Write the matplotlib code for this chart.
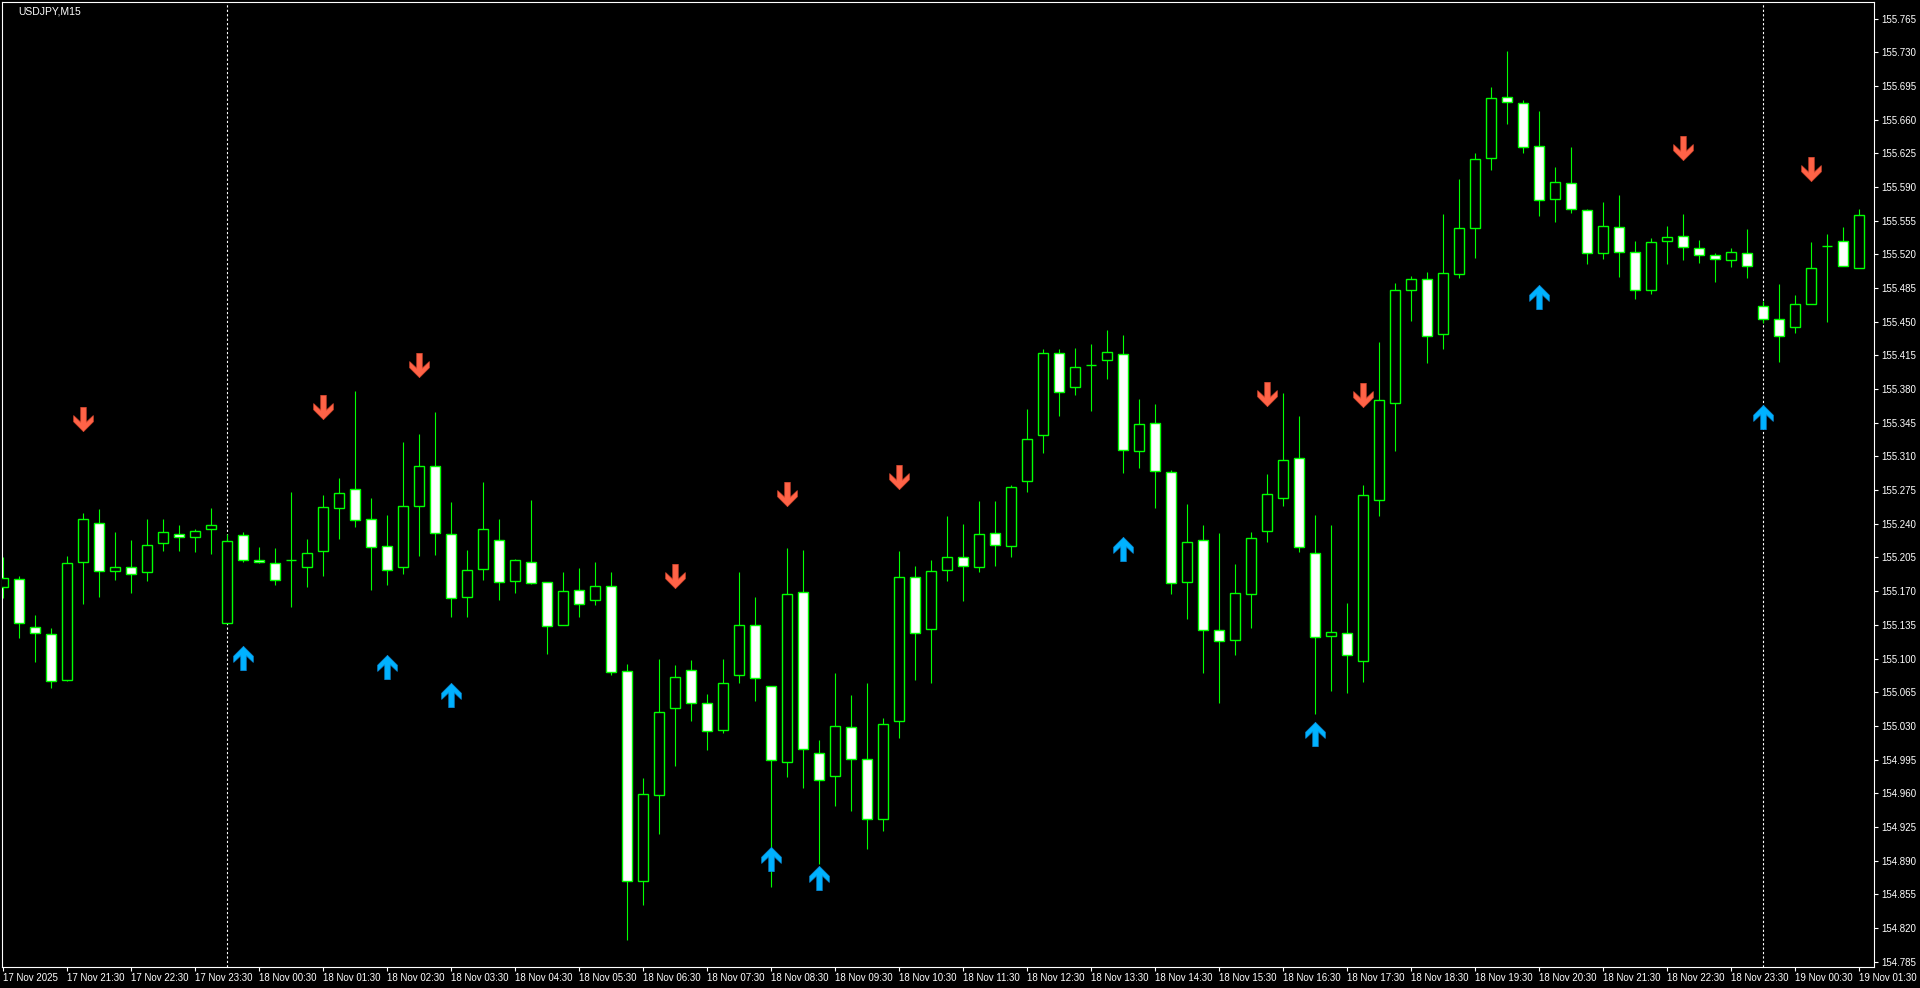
"""USDJPY M15 candles with signal arrows, MT4 look."""

import numpy as np
import matplotlib
matplotlib.use('Agg')
import matplotlib.pyplot as plt
from matplotlib.path import Path

plt.rcParams['font.family'] = ['Liberation Sans', 'DejaVu Sans']

# OHLC of each 15 minute bar, first bar 17 Nov 2025 20:30
opens = [155.174, 155.183, 155.133, 155.125, 155.078, 155.200, 155.241, 155.191, 155.195, 155.190,
         155.220, 155.229, 155.226, 155.235, 155.137, 155.228, 155.202, 155.199, 155.202, 155.195,
         155.212, 155.256, 155.276, 155.245, 155.217, 155.195, 155.259, 155.300, 155.229, 155.164,
         155.193, 155.223, 155.181, 155.200, 155.180, 155.135, 155.171, 155.161, 155.175, 155.087,
         154.869, 154.958, 155.049, 155.088, 155.054, 155.026, 155.083, 155.135, 155.071, 154.992,
         155.169, 155.002, 154.978, 155.029, 154.996, 154.933, 155.035, 155.185, 155.131, 155.192,
         155.206, 155.195, 155.230, 155.217, 155.284, 155.332, 155.417, 155.382, 155.405, 155.410,
         155.416, 155.316, 155.345, 155.294, 155.180, 155.223, 155.130, 155.119, 155.167, 155.233,
         155.267, 155.308, 155.210, 155.123, 155.127, 155.097, 155.265, 155.366, 155.483, 155.494,
         155.437, 155.500, 155.547, 155.620, 155.684, 155.677, 155.633, 155.578, 155.594, 155.566,
         155.521, 155.548, 155.523, 155.483, 155.534, 155.539, 155.527, 155.519, 155.514, 155.521,
         155.466, 155.453, 155.445, 155.468, 155.529, 155.534, 155.506]
highs = [155.206, 155.186, 155.145, 155.132, 155.207, 155.251, 155.255, 155.231, 155.223, 155.245,
         155.245, 155.239, 155.235, 155.256, 155.229, 155.232, 155.216, 155.215, 155.273, 155.224,
         155.270, 155.288, 155.378, 155.267, 155.249, 155.325, 155.333, 155.356, 155.263, 155.213,
         155.283, 155.245, 155.203, 155.265, 155.180, 155.190, 155.194, 155.200, 155.190, 155.094,
         154.976, 155.100, 155.093, 155.098, 155.063, 155.100, 155.190, 155.164, 155.071, 155.215,
         155.213, 155.015, 155.085, 155.062, 155.075, 155.038, 155.212, 155.196, 155.202, 155.248,
         155.240, 155.264, 155.264, 155.280, 155.359, 155.422, 155.422, 155.423, 155.427, 155.441,
         155.436, 155.370, 155.365, 155.296, 155.261, 155.239, 155.230, 155.198, 155.231, 155.292,
         155.376, 155.352, 155.249, 155.239, 155.158, 155.280, 155.429, 155.490, 155.498, 155.502,
         155.562, 155.598, 155.625, 155.694, 155.731, 155.680, 155.669, 155.611, 155.632, 155.567,
         155.574, 155.582, 155.534, 155.537, 155.550, 155.562, 155.535, 155.521, 155.527, 155.546,
         155.472, 155.489, 155.478, 155.533, 155.541, 155.548, 155.567]
lows = [155.163, 155.121, 155.096, 155.069, 155.077, 155.157, 155.164, 155.182, 155.168, 155.181,
        155.212, 155.212, 155.211, 155.209, 155.137, 155.200, 155.199, 155.176, 155.154, 155.174,
        155.186, 155.224, 155.237, 155.171, 155.176, 155.188, 155.207, 155.208, 155.143, 155.143,
        155.182, 155.161, 155.168, 155.177, 155.105, 155.135, 155.143, 155.156, 155.083, 154.807,
        154.844, 154.918, 154.988, 155.035, 155.005, 155.023, 155.075, 155.056, 154.863, 154.977,
        154.965, 154.886, 154.947, 154.942, 154.902, 154.921, 155.017, 155.078, 155.075, 155.181,
        155.160, 155.190, 155.196, 155.205, 155.273, 155.314, 155.352, 155.374, 155.357, 155.391,
        155.293, 155.298, 155.256, 155.167, 155.141, 155.085, 155.054, 155.104, 155.132, 155.221,
        155.258, 155.211, 155.042, 155.066, 155.064, 155.076, 155.248, 155.316, 155.451, 155.407,
        155.422, 155.495, 155.516, 155.608, 155.656, 155.625, 155.560, 155.554, 155.563, 155.510,
        155.515, 155.497, 155.474, 155.479, 155.510, 155.514, 155.511, 155.491, 155.507, 155.495,
        155.449, 155.408, 155.438, 155.468, 155.450, 155.508, 155.506]
closes = [155.184, 155.137, 155.126, 155.077, 155.199, 155.245, 155.191, 155.195, 155.188, 155.218,
          155.232, 155.226, 155.233, 155.239, 155.222, 155.202, 155.200, 155.182, 155.202, 155.210,
          155.257, 155.272, 155.244, 155.216, 155.192, 155.259, 155.300, 155.230, 155.163, 155.192,
          155.235, 155.180, 155.202, 155.179, 155.134, 155.170, 155.157, 155.175, 155.086, 154.869,
          154.959, 155.044, 155.081, 155.054, 155.025, 155.075, 155.135, 155.080, 154.995, 155.167,
          155.006, 154.974, 155.030, 154.996, 154.933, 155.032, 155.185, 155.126, 155.191, 155.205,
          155.196, 155.229, 155.218, 155.278, 155.328, 155.418, 155.377, 155.403, 155.405, 155.419,
          155.317, 155.344, 155.295, 155.179, 155.221, 155.130, 155.118, 155.168, 155.225, 155.271,
          155.306, 155.216, 155.122, 155.128, 155.104, 155.270, 155.369, 155.483, 155.494, 155.435,
          155.501, 155.547, 155.619, 155.683, 155.678, 155.632, 155.577, 155.595, 155.567, 155.521,
          155.549, 155.522, 155.483, 155.533, 155.538, 155.528, 155.519, 155.515, 155.522, 155.508,
          155.453, 155.435, 155.468, 155.506, 155.529, 155.508, 155.561]

# indicator arrows: bar index and price
sell_bars = [5, 20, 26, 42, 49, 56, 79, 85, 105, 113]
sell_prices = [155.349, 155.361, 155.405, 155.186, 155.271, 155.289, 155.375, 155.374, 155.631, 155.609]
buy_bars = [15, 24, 28, 48, 51, 70, 82, 96, 110]
buy_prices = [155.101, 155.091, 155.062, 154.892, 154.872, 155.214, 155.022, 155.476, 155.351]

# day separators (bar index of 00:00)
day_breaks = [14, 110]

time_tick_bars = list(range(0, 117, 4))
time_tick_labels = ['17 Nov 2025', '17 Nov 21:30', '17 Nov 22:30', '17 Nov 23:30',
                    '18 Nov 00:30', '18 Nov 01:30', '18 Nov 02:30', '18 Nov 03:30',
                    '18 Nov 04:30', '18 Nov 05:30', '18 Nov 06:30', '18 Nov 07:30',
                    '18 Nov 08:30', '18 Nov 09:30', '18 Nov 10:30', '18 Nov 11:30',
                    '18 Nov 12:30', '18 Nov 13:30', '18 Nov 14:30', '18 Nov 15:30',
                    '18 Nov 16:30', '18 Nov 17:30', '18 Nov 18:30', '18 Nov 19:30',
                    '18 Nov 20:30', '18 Nov 21:30', '18 Nov 22:30', '18 Nov 23:30',
                    '19 Nov 00:30', '19 Nov 01:30']
price_ticks = np.round(155.765 - 0.035 * np.arange(29), 3)

if __name__ == '__main__':
    o = np.array(opens)
    c = np.array(closes)
    x = np.arange(len(o))
    bull = c >= o
    fills = np.where(bull, 'black', 'white')

    fig = plt.figure(figsize=(19.2, 9.88), dpi=100, facecolor='black')
    ax = fig.add_axes([2 / 1920, 21 / 988, 1872 / 1920, 965 / 988], facecolor='black')

    # wicks then bodies
    ax.vlines(x, lows, highs, color='#00FF00', lw=0.8, zorder=2)
    ax.bar(x, c - o, bottom=o, width=0.6, color=fills, edgecolor='#00FF00',
           linewidth=1.0, zorder=3)

    for b in day_breaks:
        ax.axvline(b, color='white', lw=0.8, ls=(0, (2, 2)), zorder=1)

    # wingdings-like arrows
    up = [(0, 0.62), (0.5, 0.12), (0.5, -0.2), (0.14, 0.14), (0.14, -0.62),
          (-0.14, -0.62), (-0.14, 0.14), (-0.5, -0.2), (-0.5, 0.12), (0, 0.62)]
    down = [(px, -py) for px, py in up]
    ax.plot(buy_bars, buy_prices, ls='none', marker=Path(up, closed=True), ms=17.5,
            color='#00B2FF', mec='#0A8AD8', mew=0.5, zorder=4)
    ax.plot(sell_bars, sell_prices, ls='none', marker=Path(down, closed=True), ms=17.5,
            color='#FF6347', mec='#D9472E', mew=0.5, zorder=4)

    ax.set_xlim(-0.0625, 116.94)
    ax.set_ylim(154.7794, 155.7823)

    ax.yaxis.tick_right()
    ax.set_yticks(price_ticks)
    ax.set_yticklabels([f'{p:.3f}' for p in price_ticks])
    ax.set_xticks(time_tick_bars)
    ax.set_xticklabels(time_tick_labels)
    for lbl in ax.get_xticklabels():
        lbl.set_horizontalalignment('left')
    ax.tick_params(axis='y', color='white', labelcolor='white', length=3, width=0.8,
                   pad=2, labelsize=7)
    ax.tick_params(axis='x', color='white', labelcolor='white', length=3, width=0.8,
                   pad=1.5, labelsize=7)
    for s in ax.spines.values():
        s.set_color('white')
        s.set_linewidth(0.8)

    fig.text(18 / 1920, 1 - 12 / 988, 'USDJPY,M15', color='white', fontsize=7.5,
             va='center', ha='left')

    fig.savefig('out.png', dpi=100, facecolor='black')
